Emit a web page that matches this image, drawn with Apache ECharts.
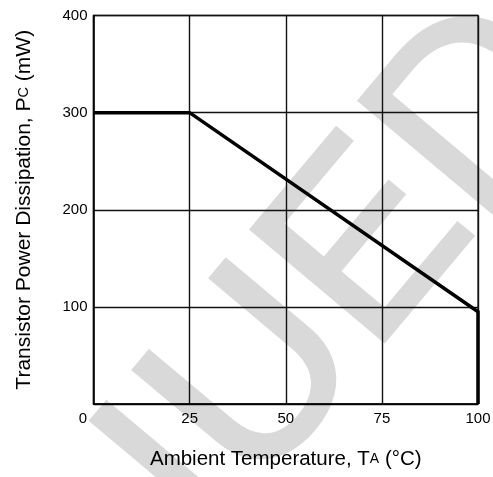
<!DOCTYPE html>
<html>
<head>
<meta charset="utf-8">
<script src="https://cdn.jsdelivr.net/npm/echarts@6/dist/echarts.min.js"></script>
<style>html,body{margin:0;padding:0;background:#fff}#c{width:493px;height:477px}</style>
</head>
<body>
<div id="c"></div>
<script>
const temps = [0, 25, 100, 100];
const power = [300, 300, 95, 0];
const xTicks = [0, 25, 50, 75, 100];
const yTicks = [100, 200, 300, 400];
const watermark = 'IUED';

const FONT = '"Liberation Sans", Arial, sans-serif';
const chart = echarts.init(document.getElementById('c'), null, {renderer: 'canvas'});
chart.setOption({
  backgroundColor: '#fff',
  animation: false,
  graphic: [{
    type: 'text', z: -100, silent: true,
    x: 156, y: 505, rotation: 50 * Math.PI / 180,
    style: {text: watermark, fontSize: 252, fontFamily: FONT, fill: '#d9d9d9',
            stroke: '#d9d9d9', lineWidth: 4,
            align: 'left', verticalAlign: 'middle'}
  }],
  grid: {left: 93.5, right: 15, top: 15.5, bottom: 73, containLabel: false,
         outerBoundsMode: 'none',
         show: true, borderColor: '#444', borderWidth: 1.5, backgroundColor: 'transparent'},
  xAxis: {
    type: 'value', min: 0, max: 100, interval: 25,
    name: '{n|Ambient Temperature, T}{s|A}{n| (°C)}',
    nameLocation: 'middle', nameGap: 45,
    nameTextStyle: {rich: {n: {fontSize: 20.5, fontFamily: FONT, color: '#000'},
                           s: {fontSize: 14, fontFamily: FONT, color: '#000'}}},
    axisLine: {show: true, lineStyle: {color: '#000', width: 1.5}},
    axisTick: {show: false},
    splitLine: {show: true, lineStyle: {color: '#111', width: 1.4}},
    axisLabel: {
      fontSize: 15, fontFamily: FONT, color: '#000', margin: 7,
      customValues: xTicks,
      formatter: v => v === 0 ? '{z|0}' : String(v),
      rich: {z: {fontSize: 15, fontFamily: FONT, color: '#000', padding: [0, 21, 0, 0]}}
    }
  },
  yAxis: {
    type: 'value', min: 0, max: 400, interval: 100,
    name: '{n|Transistor Power Dissipation, P}{s|C}{n| (mW)}',
    nameLocation: 'middle', nameGap: 59,
    nameTextStyle: {rich: {n: {fontSize: 21, fontFamily: FONT, color: '#000'},
                           s: {fontSize: 14.5, fontFamily: FONT, color: '#000'}}},
    axisLine: {show: true, lineStyle: {color: '#000', width: 1.5}},
    axisTick: {show: false},
    splitLine: {show: true, lineStyle: {color: '#111', width: 1.4}},
    axisLabel: {
      fontSize: 15, fontFamily: FONT, color: '#000', margin: 6,
      formatter: v => yTicks.includes(v) ? String(v) : ''
    }
  },
  series: [{
    type: 'line',
    data: temps.map((t, i) => [t, power[i]]),
    showSymbol: false, symbol: 'none', clip: false,
    lineStyle: {color: '#000', width: 3.5, join: 'miter'},
    z: 5
  }]
});
</script>
</body>
</html>
